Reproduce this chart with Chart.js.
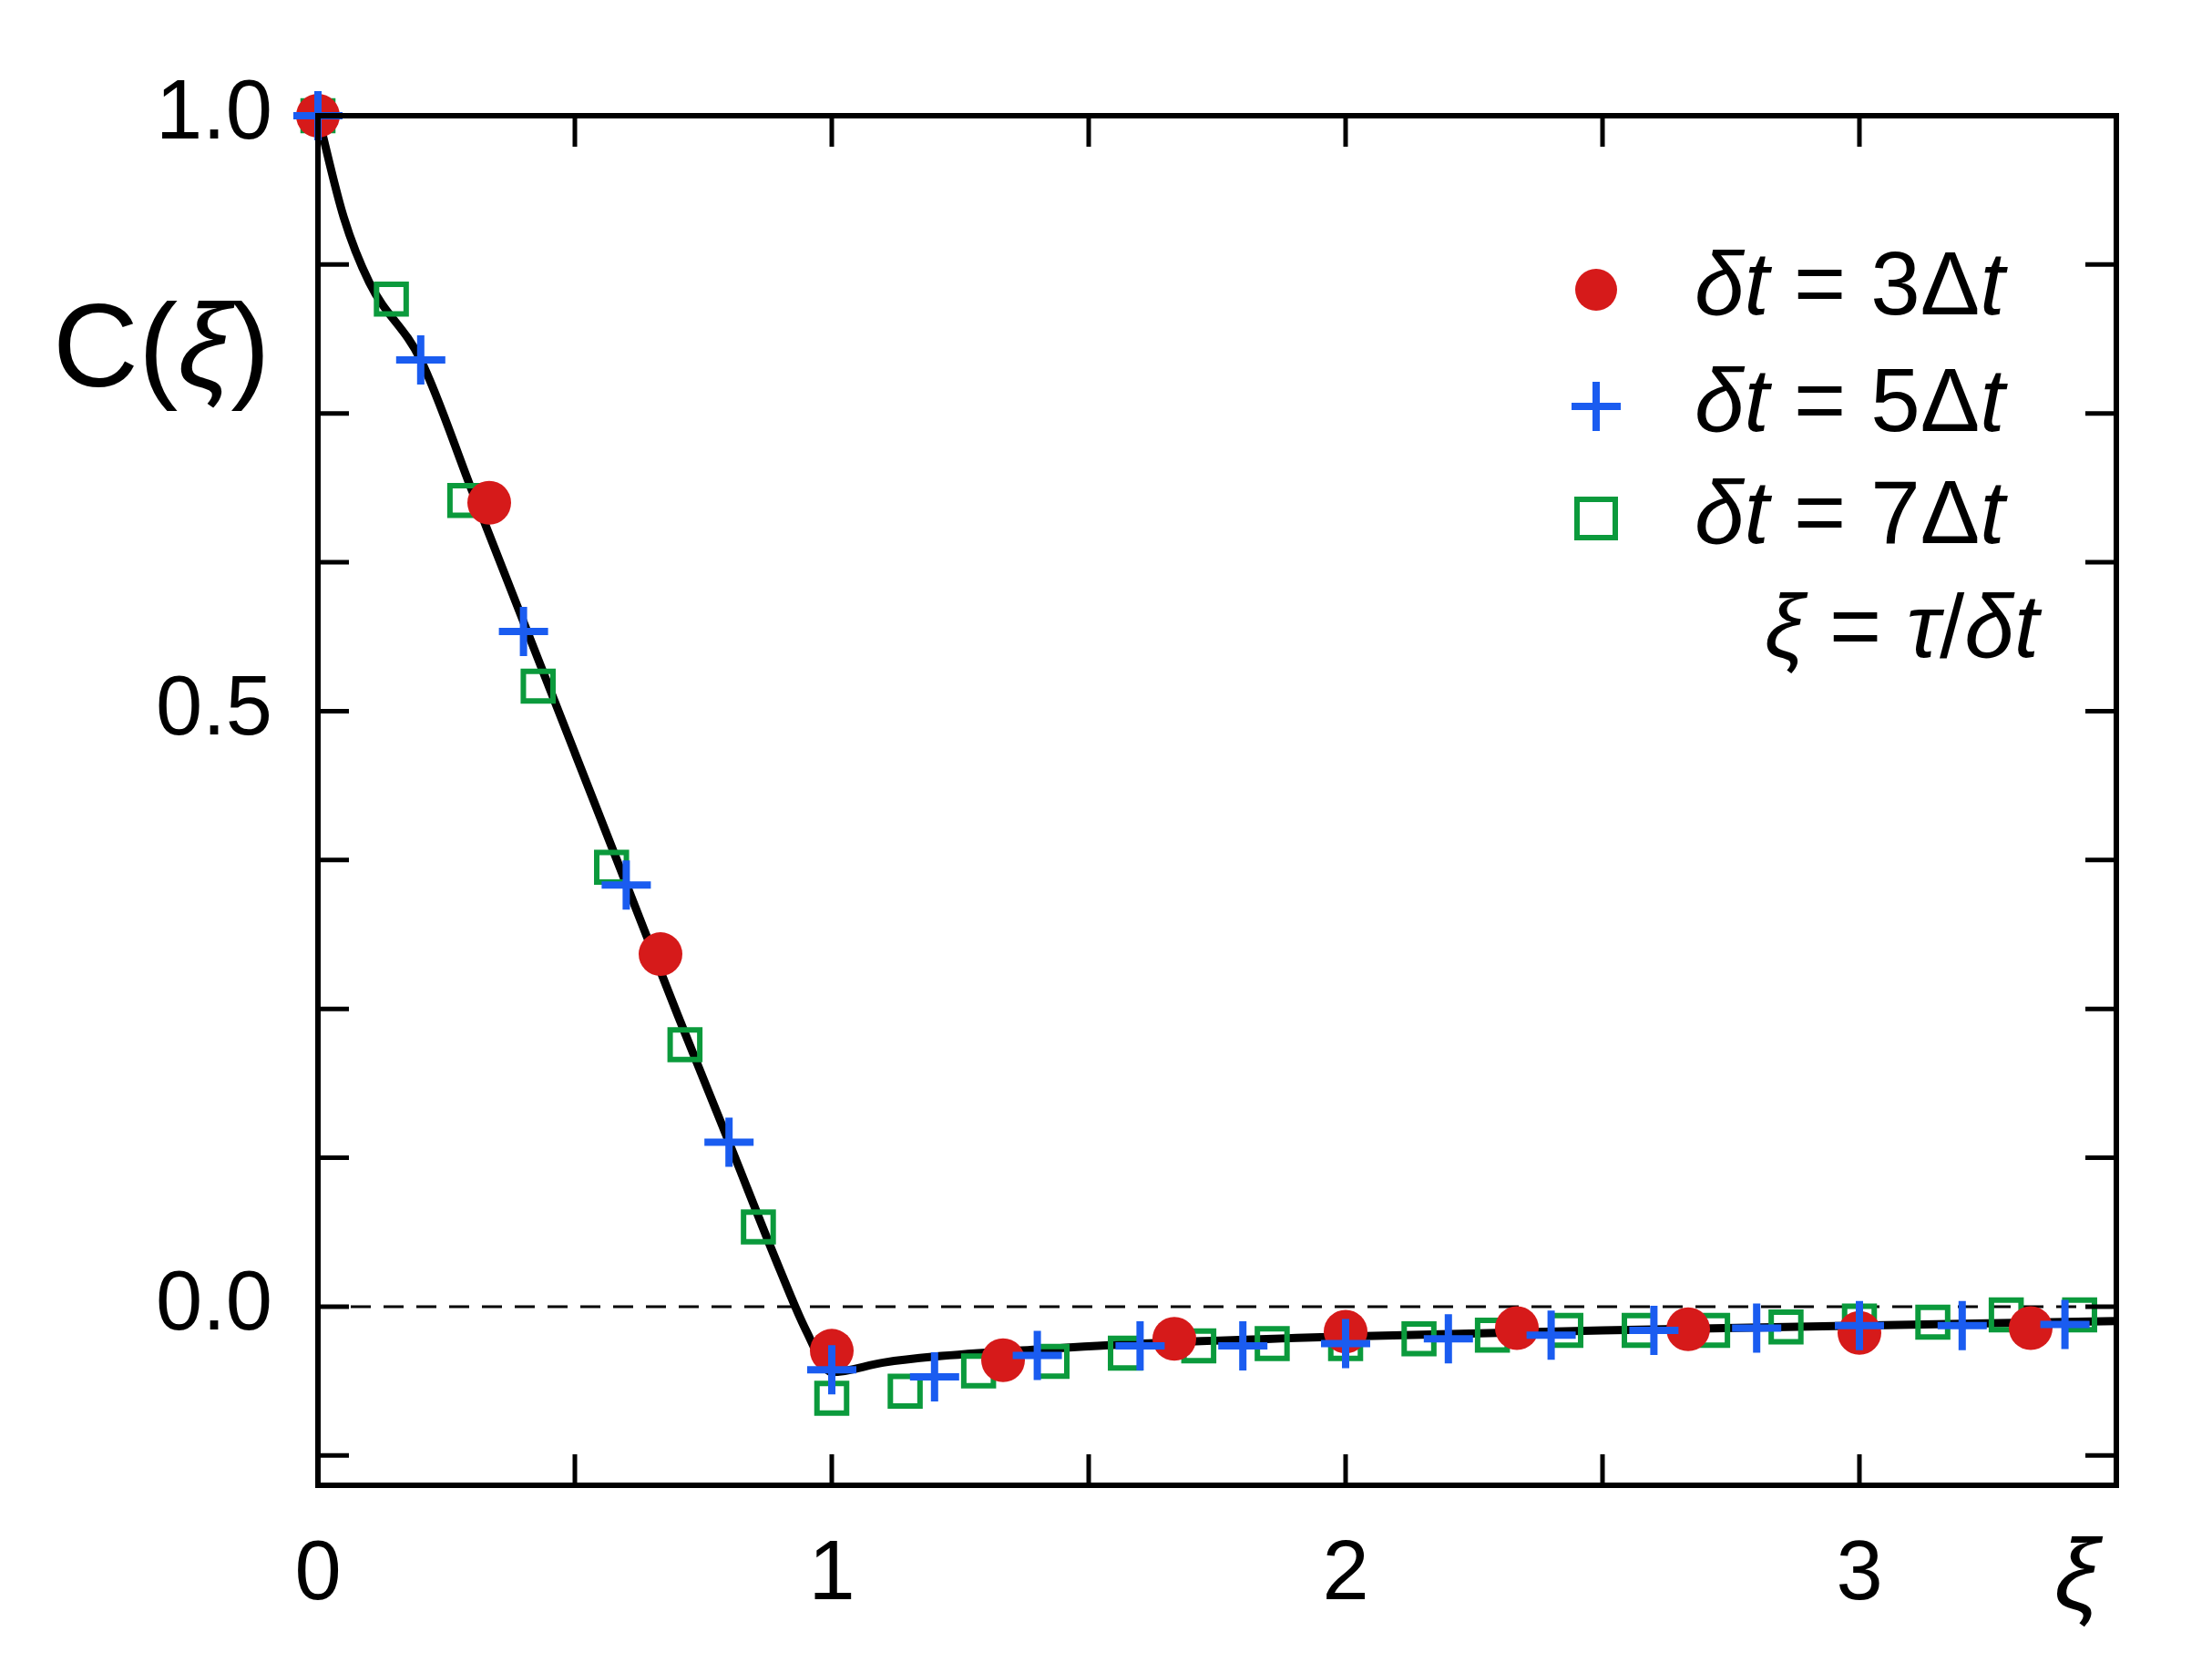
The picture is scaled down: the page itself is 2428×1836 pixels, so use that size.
<!DOCTYPE html>
<html lang="en">
<head>
<meta charset="UTF-8">
<title>C(xi)</title>
<script src="https://cdn.jsdelivr.net/npm/chart.js"></script>
<style>
  * { margin: 0; padding: 0; }
  body { background: white; width: 2428px; height: 1836px; overflow: hidden; }
  #wrap { width: 2428px; height: 1836px; position: relative; }
</style>
</head>
<body>
<div id="wrap"><canvas id="c"></canvas></div>
<script>
// series
const redX = [0, 1/3, 2/3, 1, 4/3, 5/3, 2, 7/3, 8/3, 3, 10/3];
const redY = [1.0, 0.675, 0.296, -0.037, -0.045, -0.027, -0.021, -0.018, -0.019, -0.022, -0.018];
const blueX = [0, 0.2, 0.4, 0.6, 0.8, 1.0, 1.2, 1.4, 1.6, 1.8, 2.0, 2.2, 2.4, 2.6, 2.8, 3.0, 3.2, 3.4];
const blueY = [1.0, 0.795, 0.567, 0.354, 0.138, -0.053, -0.059, -0.041, -0.033, -0.033, -0.031, -0.027, -0.024, -0.02, -0.018, -0.016, -0.016, -0.015];
const greenX = [0, 1/7, 2/7, 3/7, 4/7, 5/7, 6/7, 1, 8/7, 9/7, 10/7, 11/7, 12/7, 13/7, 2, 15/7, 16/7, 17/7, 18/7, 19/7, 20/7, 3, 22/7, 23/7, 24/7];
const greenY = [1.0, 0.846, 0.677, 0.521, 0.369, 0.220, 0.067, -0.077, -0.071, -0.054, -0.046, -0.039, -0.033, -0.031, -0.031, -0.027, -0.024, -0.020, -0.020, -0.020, -0.017, -0.012, -0.013, -0.007, -0.007];
const lineX = [0, 0.05, 0.1, 0.2, 0.3, 0.4, 0.5, 0.6, 0.7, 0.8, 0.9, 0.95, 1.0, 1.1, 1.2, 1.4, 1.6, 2.0, 2.5, 3.0, 3.5];
const lineY = [1.0, 0.915, 0.86, 0.795, 0.685, 0.575, 0.465, 0.355, 0.245, 0.138, 0.03, -0.02, -0.055, -0.047, -0.042, -0.036, -0.031, -0.025, -0.02, -0.016, -0.012];
const xLabels = [0, 1, 2, 3];
const yLabels = [0, 0.5, 1.0];

const RED = '#d61a1a', BLUE = '#1a5cf0', GREEN = '#0b9a3c';
const pts = (xs, ys) => xs.map((x, i) => ({ x: x, y: ys[i] }));
const FONT = '"Liberation Sans", Arial, sans-serif';

function richText(ctx, parts, x, y, size, align) {
  let w = 0;
  parts.forEach(p => { ctx.font = (p[1] ? 'italic ' : '') + size + 'px ' + FONT; w += ctx.measureText(p[0]).width; });
  let cx = align === 'right' ? x - w : x;
  ctx.textAlign = 'left';
  parts.forEach(p => {
    ctx.font = (p[1] ? 'italic ' : '') + size + 'px ' + FONT;
    ctx.fillText(p[0], cx, y);
    cx += ctx.measureText(p[0]).width;
  });
}

const decor = {
  id: 'decor',
  beforeDatasetsDraw(chart) {
    const ctx = chart.ctx, a = chart.chartArea, ys = chart.scales.y;
    ctx.save();
    ctx.strokeStyle = '#000';
    ctx.lineWidth = 3;
    ctx.setLineDash([22, 14]);
    ctx.beginPath();
    ctx.moveTo(a.left, ys.getPixelForValue(0));
    ctx.lineTo(a.right, ys.getPixelForValue(0));
    ctx.stroke();
    ctx.restore();
  },
  afterDraw(chart) {
    const ctx = chart.ctx, a = chart.chartArea, xs = chart.scales.x, ys = chart.scales.y;
    ctx.save();
    ctx.strokeStyle = '#000';
    ctx.lineWidth = 6;
    ctx.strokeRect(a.left, a.top, a.right - a.left, a.bottom - a.top);
    ctx.lineWidth = 5;
    const tl = 34;
    for (let v = 0; v <= 3.5001; v += 0.5) {
      const p = xs.getPixelForValue(v);
      ctx.beginPath();
      ctx.moveTo(p, a.bottom); ctx.lineTo(p, a.bottom - tl);
      ctx.moveTo(p, a.top); ctx.lineTo(p, a.top + tl);
      ctx.stroke();
    }
    for (let v = -0.125; v <= 1.0001; v += 0.125) {
      const p = ys.getPixelForValue(v);
      ctx.beginPath();
      ctx.moveTo(a.left, p); ctx.lineTo(a.left + tl, p);
      ctx.moveTo(a.right, p); ctx.lineTo(a.right - tl, p);
      ctx.stroke();
    }
    ctx.fillStyle = '#000';
    ctx.textBaseline = 'middle';
    ctx.font = '92px ' + FONT;
    ctx.textAlign = 'right';
    yLabels.forEach(v => ctx.fillText(v.toFixed(1), a.left - 50, ys.getPixelForValue(v)));
    ctx.textAlign = 'center';
    xLabels.forEach(v => ctx.fillText(String(v), xs.getPixelForValue(v), 1730));
    richText(ctx, [['ξ', true]], 2255, 1735, 110, 'left');
    richText(ctx, [['C(', false], ['ξ', true], [')', false]], 58, 388, 130, 'left');

    // legend
    const lx = 1752, tx = 1860, rows = [318, 446, 569];
    ctx.fillStyle = RED;
    ctx.beginPath(); ctx.arc(lx, rows[0], 23, 0, Math.PI * 2); ctx.fill();
    ctx.strokeStyle = BLUE; ctx.lineWidth = 8;
    ctx.beginPath(); ctx.moveTo(lx - 27, rows[1]); ctx.lineTo(lx + 27, rows[1]);
    ctx.moveTo(lx, rows[1] - 27); ctx.lineTo(lx, rows[1] + 27); ctx.stroke();
    ctx.strokeStyle = GREEN; ctx.lineWidth = 6;
    ctx.strokeRect(lx - 21, rows[2] - 21, 42, 42);
    ctx.fillStyle = '#000';
    ['3', '5', '7'].forEach((n, i) =>
      richText(ctx, [['δt', true], [' = ' + n + 'Δ', false], ['t', true]], tx, rows[i], 98, 'left'));
    richText(ctx, [['ξ', true], [' = ', false], ['τ', true], ['/', false], ['δt', true]], 2238, 694, 98, 'right');
    ctx.restore();
  }
};

new Chart(document.getElementById('c'), {
  type: 'scatter',
  data: {
    datasets: [
      { data: pts(lineX, lineY), showLine: true, borderColor: '#000', borderWidth: 9, pointRadius: 0, cubicInterpolationMode: 'monotone', order: 4 },
      { data: pts(greenX, greenY), pointStyle: 'rect', pointRadius: 23, borderColor: GREEN, borderWidth: 6, backgroundColor: 'rgba(0,0,0,0)', order: 3 },
      { data: pts(redX, redY), pointStyle: 'circle', pointRadius: 24, backgroundColor: RED, borderColor: RED, borderWidth: 0, order: 2 },
      { data: pts(blueX, blueY), pointStyle: 'cross', pointRadius: 27, borderColor: BLUE, borderWidth: 8, order: 1 }
    ]
  },
  options: {
    responsive: true,
    maintainAspectRatio: false,
    animation: false,
    clip: false,
    layout: { padding: { top: 127, right: 105, left: 0, bottom: 0 } },
    plugins: { legend: { display: false }, tooltip: { enabled: false } },
    scales: {
      x: {
        type: 'linear', min: 0, max: 3.5,
        grid: { display: false }, border: { display: false },
        ticks: { display: false },
        afterFit: s => { s.height = 206; }
      },
      y: {
        type: 'linear', min: -0.15, max: 1.0,
        grid: { display: false }, border: { display: false },
        ticks: { display: false },
        afterFit: s => { s.width = 349; }
      }
    }
  },
  plugins: [decor]
});
</script>
</body>
</html>
